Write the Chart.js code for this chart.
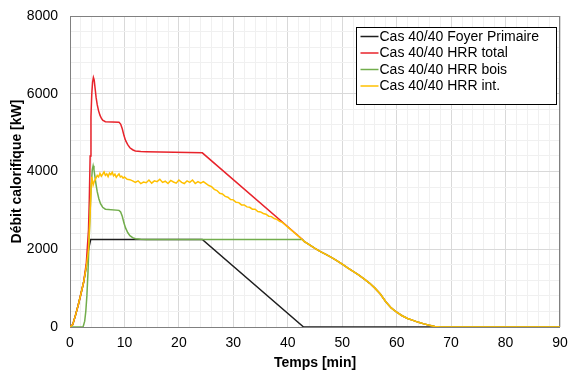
<!DOCTYPE html>
<html>
<head>
<meta charset="utf-8">
<script src="https://cdn.jsdelivr.net/npm/chart.js@4.4.0/dist/chart.umd.min.js"></script>
<style>
  html, body { margin: 0; padding: 0; background: #fff; }
  canvas { display: block; }
</style>
</head>
<body>
<canvas id="chart" width="569" height="374"></canvas>
<script>
// Foyer primaire (black)
const foyerT = [0, 0.5, 1, 1.5, 2, 2.5, 3, 3.4, 3.8, 24.3, 42.9, 90];
const foyerV = [0, 60, 300, 560, 850, 1150, 1550, 2000, 2250, 2250, 0, 0];

// common descending tail (red, green and yellow overlap after ~42.7 min)
const tailT = [43, 44, 45, 46, 47, 48, 49, 50, 51, 52, 53, 54, 55, 56, 57, 58, 59, 60, 61, 62, 63, 64, 65, 66, 67, 68, 90];
const tailV = [2200, 2110, 2020, 1940, 1870, 1790, 1710, 1620, 1520, 1430, 1340, 1240, 1130, 1000, 850, 650, 490, 380, 290, 220, 170, 120, 80, 45, 15, 0, 0];

// HRR total (red)
const totalT = [0, 0.5, 1, 1.5, 2, 2.5, 3, 3.4, 3.55, 3.7, 3.85, 4.0, 4.15, 4.3, 4.45, 4.6, 4.8, 5.0, 5.25, 5.5, 5.75, 6.0, 6.5,
  9.0, 9.3, 9.6, 9.9, 10.2, 10.6, 11, 11.5, 12, 13, 14, 24.3, 42.7];
const totalV = [0, 60, 300, 560, 850, 1150, 1650, 2500, 3300, 4400, 5400, 6000, 6300, 6420, 6350, 6150, 5900, 5720, 5560, 5450, 5370, 5320, 5280,
  5265, 5220, 5100, 4930, 4800, 4690, 4610, 4560, 4530, 4515, 4510, 4480, 2250];

// HRR bois (green)
const boisT = [0, 2.4, 2.7, 2.9, 3.1, 3.3, 3.5, 3.7, 3.9, 4.1, 4.25, 4.4, 4.6, 4.8, 5.0, 5.3, 5.6, 6.0, 6.5,
  9.0, 9.3, 9.6, 9.9, 10.2, 10.6, 11, 11.5, 12, 13, 14, 42.7];
const boisV = [0, 0, 150, 400, 800, 1400, 2200, 3000, 3650, 4050, 4150, 4050, 3850, 3650, 3480, 3300, 3170, 3080, 3030,
  3000, 2960, 2850, 2680, 2550, 2430, 2350, 2300, 2270, 2255, 2250, 2250];

// HRR int. (yellow)
const intT = [0, 0.5, 1, 1.5, 2, 2.5, 3, 3.4, 3.7, 3.9,
  4.0, 4.25, 4.5, 4.75, 5.0, 5.25, 5.5, 5.75, 6.0, 6.25, 6.5, 6.75, 7.0, 7.25, 7.5, 7.75, 8.0, 8.25, 8.5, 8.75,
  9.0, 9.25, 9.5, 9.75, 10.0, 10.5, 11.0, 11.5, 12.0, 12.5, 13.0, 13.5, 14.0, 14.5, 15.0, 15.5, 16.0, 16.5,
  17.0, 17.5, 18.0, 18.5, 19.0, 19.5, 20.0, 20.5, 21.0, 21.5, 22.0, 22.5, 23.0, 23.5, 24.0, 24.5, 25.0, 25.5,
  26.0, 26.5, 27.0, 27.5, 28.0, 28.5, 29.0, 29.5, 30.0, 30.5, 31.0, 31.5, 32.0, 32.5, 33.0, 33.5, 34.0, 34.5,
  35.0, 35.5, 36.0, 36.5, 37.0, 37.5, 38.0, 38.5, 39.0, 39.5, 40.0, 40.5, 41.0, 41.5, 42.0, 42.5];
const intV = [0, 60, 300, 560, 850, 1150, 1550, 2000, 2900, 3700,
  3866, 3650, 3760, 3820, 3900, 3860, 3950, 3880, 3930, 3990, 3900, 3940, 3870, 3960, 3920, 3980, 3890, 3930, 3850, 3900,
  3940, 3860, 3880, 3830, 3860, 3800, 3790, 3760, 3720, 3760, 3690, 3730, 3710, 3780, 3700, 3760, 3740, 3800,
  3720, 3750, 3690, 3770, 3730, 3700, 3780, 3720, 3690, 3760, 3720, 3780, 3690, 3740, 3700, 3740, 3690, 3640,
  3610, 3540, 3510, 3440, 3420, 3360, 3340, 3280, 3270, 3210, 3200, 3140, 3140, 3090, 3080, 3030, 3030, 2970,
  2960, 2920, 2900, 2850, 2840, 2790, 2770, 2720, 2690, 2630, 2570, 2510, 2450, 2390, 2330, 2270];

const seriesLabels = ['Cas 40/40 Foyer Primaire', 'Cas 40/40 HRR total', 'Cas 40/40 HRR bois', 'Cas 40/40 HRR int.'];
const seriesColors = ['#1e1e1e', '#e8232b', '#72ad4c', '#ffc000'];

const xTicks = [0, 10, 20, 30, 40, 50, 60, 70, 80, 90];
const yTicks = [0, 2000, 4000, 6000, 8000];

function pts(t, v) {
    return t.map((x, i) => ({ x: x, y: v[i] }));
}

// drop the automatic label overflow padding, layout.padding decides
function noPad(s) {
    s.paddingTop = 0;
    s.paddingBottom = 0;
    s.paddingLeft = 0;
    s.paddingRight = 0;
}

const FONT = "'Liberation Sans', Arial, sans-serif";

// plot frame + boxed legend
const framePlugin = {
    id: 'frame',
    beforeDatasetsDraw(chart) {
        const a = chart.chartArea;
        const ctx = chart.ctx;
        ctx.save();
        ctx.strokeStyle = '#808080';
        ctx.lineWidth = 1;
        ctx.strokeRect(Math.round(a.left) + 0.5, Math.round(a.top) + 0.5,
            Math.round(a.right - a.left) - 1, Math.round(a.bottom - a.top));
        ctx.restore();
    },
    afterDraw(chart) {
        const a = chart.chartArea;
        const ctx = chart.ctx;
        const x = Math.round(a.right) - 203.5;
        const y = Math.round(a.top) + 11.5;
        ctx.save();
        ctx.fillStyle = '#fff';
        ctx.fillRect(x, y, 200, 77);
        ctx.strokeStyle = '#000';
        ctx.lineWidth = 1;
        ctx.strokeRect(x, y, 200, 77);
        ctx.font = '14px ' + FONT;
        ctx.textBaseline = 'middle';
        ctx.fillStyle = '#000';
        seriesLabels.forEach((lab, i) => {
            const ry = y + 9 + i * 16.5;
            ctx.strokeStyle = seriesColors[i];
            ctx.lineWidth = 1.5;
            ctx.beginPath();
            ctx.moveTo(x + 4, ry);
            ctx.lineTo(x + 22, ry);
            ctx.stroke();
            ctx.fillText(lab, x + 23, ry + 0.5);
        });
        ctx.restore();
    }
};

const ctx = document.getElementById('chart').getContext('2d');
new Chart(ctx, {
    type: 'line',
    data: {
        datasets: [
            { label: seriesLabels[0], data: pts(foyerT, foyerV), borderColor: seriesColors[0], borderWidth: 1.5, pointRadius: 0, tension: 0, order: 3 },
            { label: seriesLabels[1], data: pts(totalT.concat(tailT), totalV.concat(tailV)), borderColor: seriesColors[1], borderWidth: 1.5, pointRadius: 0, tension: 0, order: 2 },
            { label: seriesLabels[2], data: pts(boisT.concat(tailT), boisV.concat(tailV)), borderColor: seriesColors[2], borderWidth: 1.5, pointRadius: 0, tension: 0, order: 1 },
            { label: seriesLabels[3], data: pts(intT.concat(tailT), intV.concat(tailV)), borderColor: seriesColors[3], borderWidth: 1.5, pointRadius: 0, tension: 0, order: 0 }
        ]
    },
    options: {
        responsive: false,
        animation: false,
        layout: { padding: { top: 16, right: 9, left: 0, bottom: 0 } },
        plugins: {
            legend: { display: false },
            tooltip: { enabled: false }
        },
        scales: {
            x: {
                type: 'linear',
                min: 0,
                max: 90,
                afterFit: s => { s.height = 47; noPad(s); },
                ticks: {
                    stepSize: 2,
                    autoSkip: false,
                    maxRotation: 0,
                    padding: 8,
                    color: '#000',
                    font: { family: FONT, size: 14 },
                    callback: v => xTicks.includes(v) ? v : ''
                },
                grid: {
                    drawTicks: false,
                    color: c => xTicks.includes(c.tick.value) ? '#d9d9d9' : '#f0f0f0'
                },
                border: { display: false },
                title: {
                    display: true,
                    text: 'Temps [min]',
                    color: '#000',
                    font: { family: FONT, size: 14, weight: 'bold' },
                    padding: { top: 0, bottom: 2 }
                }
            },
            y: {
                min: 0,
                max: 8000,
                afterFit: s => { s.width = 70; noPad(s); },
                ticks: {
                    stepSize: 400,
                    autoSkip: false,
                    padding: 12,
                    color: '#000',
                    font: { family: FONT, size: 14 },
                    callback: v => yTicks.includes(v) ? v : ''
                },
                grid: {
                    drawTicks: false,
                    color: c => yTicks.includes(c.tick.value) ? '#d9d9d9' : '#f0f0f0'
                },
                border: { display: false },
                title: {
                    display: true,
                    text: 'Débit calorifique [kW]',
                    color: '#000',
                    font: { family: FONT, size: 14, weight: 'bold' },
                    padding: { top: 9, bottom: 0 }
                }
            }
        }
    },
    plugins: [framePlugin]
});
</script>
</body>
</html>
